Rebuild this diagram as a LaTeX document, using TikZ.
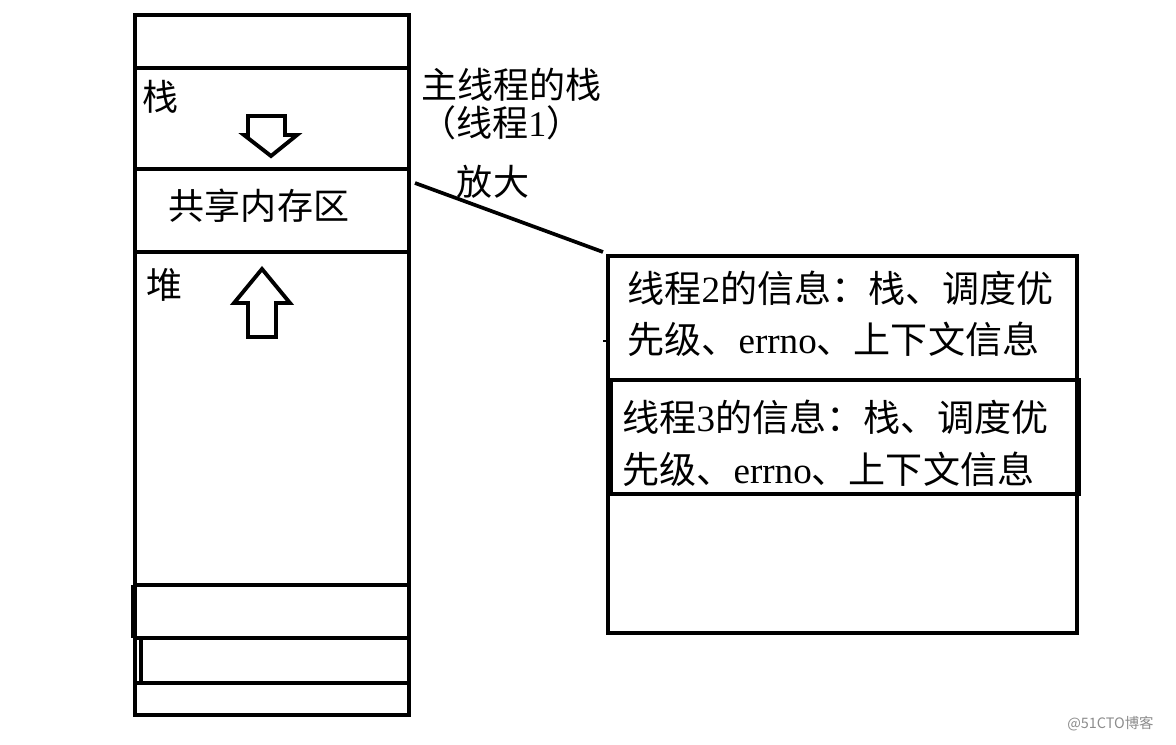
\documentclass[tikz,border=0pt]{standalone}
\usepackage{fontspec}
\setmainfont{Liberation Serif}
\newfontfamily\cjk{Noto Sans CJK SC}
\begin{document}
\begin{tikzpicture}[x=0.02cm,y=-0.02cm,
  wall/.style={line width=2.6pt,line join=miter},
  blockarrow/.style={line width=2.2pt,line join=miter},
  lbl/.style={inner sep=0pt,font=\fontsize{20.5pt}{24pt}\selectfont},
  info/.style={inner sep=0pt,anchor=west,font=\fontsize{21.1pt}{25pt}\selectfont},
  link/.style={line width=2.1pt}]
\useasboundingbox (0,0) rectangle (1176,744);
% left column: process address space
\draw[wall] (135,15) rectangle (409,715);
\foreach \yy in {68,169,252,585,638,683}
  \draw[wall] (135,\yy) -- (409,\yy);
\draw[wall] (133,585) -- (133,638);
\draw[wall] (141,638) -- (141,683);
% block arrows
\draw[blockarrow] (248,116) -- (285,116) -- (285,135) -- (297,135) -- (271,156) -- (244,135) -- (248,135) -- cycle;
\draw[blockarrow] (248,337) -- (248,303) -- (234,303) -- (262,269) -- (290,303) -- (276,303) -- (276,337) -- cycle;
% labels in the column
\node[lbl,anchor=west] (stk) at (142,97) {\cjk 栈};
\node[lbl] (shm) at (259,206) {\cjk 共享内存区};
\node[lbl,anchor=west] (heap) at (146,285) {\cjk 堆};
% main thread label
\node[lbl,anchor=west] (main1) at (421,85) {\cjk 主线程的栈};
\node[lbl,anchor=west] (main2) at (420,123) {{\cjk （线程}1{\cjk ）}};
\node[lbl] (zoomlbl) at (493,182) {\cjk 放大};
% zoom connector
\coordinate (za) at (415,183);
\coordinate (zb) at (603,252);
\draw[link] (za) -- (zb);
% right box: thread info
\draw[wall] (608,256) rectangle (1077,633);
\draw[wall] (611,380) rectangle (1079,494);
\draw[line width=1.5pt] (603,341) -- (607,341);
\node[info] (t2a) at (627,288) {{\cjk 线程}2{\cjk 的信息：栈、调度优}};
\node[info] (t2b) at (627,339) {{\cjk 先级、}errno{\cjk 、上下文信息}};
\node[info] (t3a) at (622,417) {{\cjk 线程}3{\cjk 的信息：栈、调度优}};
\node[info] (t3b) at (622,469) {{\cjk 先级、}errno{\cjk 、上下文信息}};
% watermark
\node[inner sep=0pt,anchor=west,text=black!45,font=\fontsize{8.2pt}{10pt}\selectfont] (wm) at (1067,724) {\cjk @51CTO博客};
\end{tikzpicture}
\end{document}
